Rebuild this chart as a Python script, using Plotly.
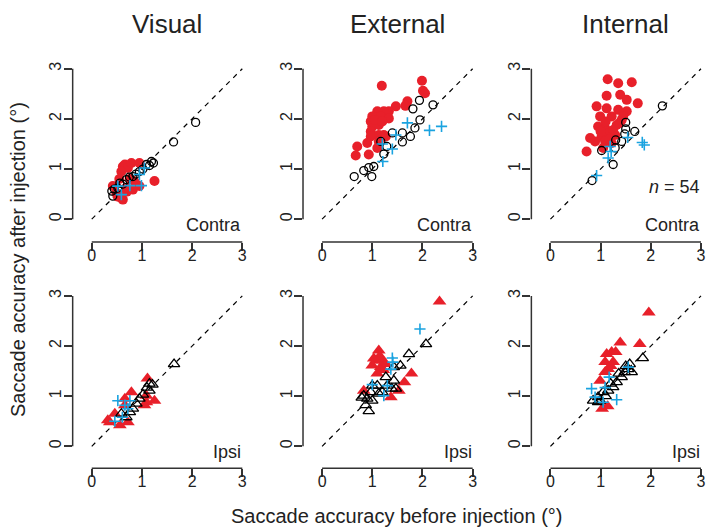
import plotly.graph_objects as go

# ---------------- data (accuracy before, after injection, degrees) ----------------
vis_contra_black_x = [0.40, 0.42, 0.45, 0.52, 0.56, 0.62, 0.69, 0.75, 0.82, 0.88, 0.95, 1.02, 1.09, 1.15, 1.19, 1.23, 1.63, 2.07]
vis_contra_black_y = [0.56, 0.46, 0.60, 0.62, 0.72, 0.70, 0.79, 0.84, 0.85, 0.90, 0.95, 1.00, 1.09, 1.07, 1.15, 1.12, 1.54, 1.93]
vis_contra_red_x = [0.62, 0.66, 0.72, 0.79, 0.95, 0.59, 0.42, 0.49, 0.62, 0.82, 0.95, 0.76, 1.25, 0.55, 0.70, 0.88, 0.52, 0.68, 0.59, 0.85]
vis_contra_red_y = [1.05, 1.09, 1.02, 1.12, 1.12, 0.95, 0.66, 0.52, 0.39, 0.59, 0.66, 0.80, 0.76, 0.80, 0.55, 0.70, 0.45, 0.62, 0.42, 0.75]
vis_contra_blue_x = [0.52, 0.59, 0.76, 0.99, 0.95, 1.05]
vis_contra_blue_y = [0.66, 0.49, 0.67, 0.67, 0.89, 1.02]

ext_contra_black_x = [0.64, 0.83, 0.93, 1.03, 0.99, 1.23, 1.29, 1.40, 1.60, 1.60, 1.76, 1.85, 1.95, 1.81, 1.94, 2.21, 1.17]
ext_contra_black_y = [0.85, 0.97, 1.03, 1.05, 0.85, 1.30, 1.45, 1.72, 1.72, 1.54, 1.65, 1.82, 1.98, 2.20, 2.37, 2.28, 1.55]
ext_contra_red_x = [1.19, 1.99, 2.01, 2.05, 1.70, 1.66, 1.47, 1.33, 1.23, 1.10, 1.00, 1.17, 1.33, 0.97, 1.00, 1.13, 0.97, 0.97, 1.13, 1.23, 0.90, 1.13, 0.70, 0.67, 0.93, 1.10, 1.27, 1.05, 1.20]
ext_contra_red_y = [2.66, 2.76, 2.56, 2.51, 2.35, 2.26, 2.25, 2.15, 2.15, 2.15, 2.05, 2.05, 2.01, 1.95, 1.85, 1.88, 1.75, 1.65, 1.68, 1.68, 1.52, 1.55, 1.45, 1.27, 1.29, 1.42, 1.65, 1.98, 1.95]
ext_contra_blue_x = [1.70, 2.14, 2.38, 1.47, 1.20, 1.40, 1.21]
ext_contra_blue_y = [1.92, 1.77, 1.85, 1.68, 1.50, 1.40, 1.15]

int_contra_black_x = [2.23, 1.68, 1.50, 1.50, 1.48, 1.30, 1.02, 1.25, 0.83, 1.29, 1.42]
int_contra_black_y = [2.26, 1.75, 1.93, 1.80, 1.70, 1.58, 1.37, 1.09, 0.77, 1.42, 1.55]
int_contra_red_x = [1.14, 1.35, 1.62, 1.12, 1.39, 1.52, 1.74, 0.92, 1.12, 1.35, 1.22, 1.52, 0.99, 0.95, 1.09, 1.42, 1.32, 1.15, 1.02, 1.29, 0.79, 0.89, 1.09, 1.22, 0.72, 1.05, 1.18, 1.25, 1.38, 1.10, 1.45, 1.00]
int_contra_red_y = [2.79, 2.71, 2.73, 2.46, 2.48, 2.38, 2.31, 2.25, 2.21, 2.18, 2.05, 2.15, 2.05, 1.85, 1.82, 1.98, 1.88, 1.72, 1.65, 1.68, 1.62, 1.55, 1.55, 1.52, 1.35, 1.42, 1.60, 1.78, 1.92, 1.95, 2.05, 1.75]
int_contra_blue_x = [0.92, 1.15, 1.19, 1.21, 1.54, 1.83, 1.87]
int_contra_blue_y = [0.87, 1.22, 1.45, 1.35, 1.63, 1.53, 1.48]

vis_ipsi_black_x = [1.64, 1.21, 1.15, 1.10, 1.15, 1.02, 0.95, 0.89, 0.82, 0.76, 0.69, 0.59]
vis_ipsi_black_y = [1.64, 1.23, 1.25, 1.17, 1.11, 1.03, 0.95, 0.85, 0.75, 0.68, 0.58, 0.65]
vis_ipsi_red_x = [1.11, 0.79, 1.25, 1.09, 0.66, 0.46, 0.36, 0.56, 0.72, 1.09, 0.66, 0.32, 1.05]
vis_ipsi_red_y = [1.35, 1.08, 0.91, 0.88, 0.82, 0.65, 0.48, 0.42, 0.48, 1.01, 0.95, 0.52, 0.82]
vis_ipsi_blue_x = [0.52, 0.76, 0.66, 0.72, 0.46, 0.61]
vis_ipsi_blue_y = [0.91, 0.91, 0.82, 0.75, 0.50, 0.58]

ext_ipsi_black_x = [2.07, 1.73, 1.56, 1.43, 1.27, 1.30, 1.43, 1.47, 1.20, 1.10, 1.00, 1.13, 0.97, 0.83, 0.90, 1.00, 0.87, 0.93, 0.79, 1.39]
ext_ipsi_black_y = [2.04, 1.84, 1.61, 1.58, 1.38, 1.21, 1.31, 1.15, 1.08, 1.21, 1.21, 1.05, 1.08, 1.01, 0.95, 0.91, 0.82, 0.70, 0.97, 1.15]
ext_ipsi_red_x = [2.34, 1.13, 1.07, 1.20, 1.00, 1.17, 1.27, 1.10, 1.78, 1.64, 1.53, 1.37, 0.83, 1.03, 1.15, 1.22]
ext_ipsi_red_y = [2.89, 1.91, 1.71, 1.71, 1.61, 1.58, 1.64, 1.45, 1.45, 1.28, 1.11, 0.98, 1.11, 1.75, 1.80, 1.52]
ext_ipsi_blue_x = [1.95, 1.40, 1.37, 1.00, 1.30, 1.23, 1.41]
ext_ipsi_blue_y = [2.34, 1.76, 1.54, 1.23, 1.21, 1.01, 1.68]

int_ipsi_black_x = [1.84, 1.58, 1.55, 1.62, 1.48, 1.42, 1.32, 1.25, 1.15, 1.05, 0.95, 0.85, 0.99, 0.95, 1.10, 1.20, 1.36, 1.50]
int_ipsi_black_y = [1.76, 1.64, 1.54, 1.48, 1.48, 1.38, 1.28, 1.18, 1.11, 1.08, 0.98, 0.91, 0.91, 0.88, 1.00, 1.25, 1.45, 1.60]
int_ipsi_red_x = [1.96, 1.39, 1.78, 1.22, 1.30, 1.12, 1.09, 1.25, 1.15, 1.09, 0.99, 1.03, 1.14, 1.20]
int_ipsi_red_y = [2.67, 2.07, 2.04, 1.88, 1.88, 1.84, 1.68, 1.68, 1.54, 1.48, 1.31, 0.75, 0.80, 1.60]
int_ipsi_blue_x = [1.55, 1.17, 0.82, 1.09, 1.32, 0.89, 1.05]
int_ipsi_blue_y = [1.58, 1.38, 1.15, 1.17, 0.93, 0.98, 0.88]

col_titles = ["Visual", "External", "Internal"]
row_labels = ["Contra", "Ipsi"]
tick_vals = [0, 1, 2, 3]
tick_text = ["0", "1", "2", "3"]
n_label = "<i>n</i> = 54"
x_title = "Saccade accuracy before injection (°)"
y_title = "Saccade accuracy after injection (°)"

panels = [
    (vis_contra_black_x, vis_contra_black_y, vis_contra_red_x, vis_contra_red_y, vis_contra_blue_x, vis_contra_blue_y),
    (ext_contra_black_x, ext_contra_black_y, ext_contra_red_x, ext_contra_red_y, ext_contra_blue_x, ext_contra_blue_y),
    (int_contra_black_x, int_contra_black_y, int_contra_red_x, int_contra_red_y, int_contra_blue_x, int_contra_blue_y),
    (vis_ipsi_black_x, vis_ipsi_black_y, vis_ipsi_red_x, vis_ipsi_red_y, vis_ipsi_blue_x, vis_ipsi_blue_y),
    (ext_ipsi_black_x, ext_ipsi_black_y, ext_ipsi_red_x, ext_ipsi_red_y, ext_ipsi_blue_x, ext_ipsi_blue_y),
    (int_ipsi_black_x, int_ipsi_black_y, int_ipsi_red_x, int_ipsi_red_y, int_ipsi_blue_x, int_ipsi_blue_y),
]

# ---------------- style / layout ----------------
W, H = 707, 527
RED = "#E8202A"
BLUE = "#1AA3E0"
AX = "#333333"
TXT = "#222222"
FONT = "Liberation Sans, Arial, sans-serif"
PPU = 50.33  # pixels per data unit
x_zero_px = [92, 323, 552]
y_zero_px = [218, 446]
x_axis_px = [241, 468]
XR = [-0.38, 3.05]

fig = go.Figure()
layout = dict(
    width=W, height=H, margin=dict(l=0, r=0, t=0, b=0),
    paper_bgcolor="white", plot_bgcolor="white",
    showlegend=False, font=dict(family=FONT, color=TXT),
)
shapes = []
annotations = []

for idx, (bx, by, rx, ry, ux, uy) in enumerate(panels):
    r, c = divmod(idx, 3)
    k = idx + 1
    xs = "" if k == 1 else str(k)
    xa, ya = "x" + xs, "y" + xs

    fill_sym = "circle" if r == 0 else "triangle-up"
    open_sym = "circle-open" if r == 0 else "triangle-up-open"
    fsize = 10 if r == 0 else 12
    osize = 8 if r == 0 else 10

    fig.add_trace(go.Scatter(x=rx, y=ry, mode="markers", xaxis=xa, yaxis=ya,
                             marker=dict(symbol=fill_sym, size=fsize, color=RED, line=dict(width=0))))
    fig.add_trace(go.Scatter(x=bx, y=by, mode="markers", xaxis=xa, yaxis=ya,
                             marker=dict(symbol=open_sym, size=osize, color="black", line=dict(width=1.3, color="black"))))
    fig.add_trace(go.Scatter(x=ux, y=uy, mode="markers", xaxis=xa, yaxis=ya,
                             marker=dict(symbol="cross-thin", size=8, color=BLUE, line=dict(width=1.6, color=BLUE))))

    x0px = x_zero_px[c] + XR[0] * PPU
    x1px = x_zero_px[c] + XR[1] * PPU
    ybot = x_axis_px[r]
    ylo = -(ybot - y_zero_px[r]) / PPU
    yhi = 3.1
    ytop = y_zero_px[r] - yhi * PPU

    common = dict(showgrid=False, zeroline=False, showline=False, ticks="outside", ticklen=8,
                  tickwidth=1.5, tickcolor=AX, tickvals=tick_vals, ticktext=tick_text,
                  tickfont=dict(size=16, color=TXT, family=FONT), fixedrange=True)
    layout["xaxis" + xs] = dict(common, domain=[x0px / W, x1px / W], range=XR, anchor=ya,
                                ticklabelstandoff=-9)
    layout["yaxis" + xs] = dict(common, domain=[1 - ybot / H, 1 - ytop / H], range=[ylo, yhi],
                                anchor=xa, tickangle=-90, ticklabelstandoff=-4)

    shapes.append(dict(type="line", xref=xa, yref=ya + " domain", x0=0, x1=3, y0=0, y1=0,
                       line=dict(color=AX, width=1.5), layer="above"))
    shapes.append(dict(type="line", xref=xa + " domain", yref=ya, x0=0, x1=0, y0=0, y1=3,
                       line=dict(color=AX, width=1.5), layer="above"))
    shapes.append(dict(type="line", xref=xa, yref=ya, x0=0, y0=0, x1=3, y1=3,
                       line=dict(color="black", width=1.2, dash="5px,5px"), layer="below"))

    annotations.append(dict(text=row_labels[r], xref=xa, yref=ya, x=3.02, y=-0.12,
                            xanchor="right", yanchor="middle", showarrow=False,
                            font=dict(size=18, color=TXT, family=FONT)))

annotations.append(dict(text=n_label, xref="x3", yref="y3", x=3.02, y=0.64, xanchor="right",
                        yanchor="middle", showarrow=False, font=dict(size=18, color=TXT, family=FONT)))
for c, t in enumerate(col_titles):
    annotations.append(dict(text=t, xref="paper", yref="paper", x=(x_zero_px[c] + 1.5 * PPU) / W,
                            y=1 - 22 / H, xanchor="center", yanchor="middle", showarrow=False,
                            font=dict(size=26, color=TXT, family=FONT)))
annotations.append(dict(text=x_title, xref="paper", yref="paper", x=398 / W, y=1 - 516 / H,
                        xanchor="center", yanchor="middle", showarrow=False,
                        font=dict(size=20, color=TXT, family=FONT)))
annotations.append(dict(text=y_title, xref="paper", yref="paper", x=18 / W, y=1 - 258 / H,
                        xanchor="center", yanchor="middle", showarrow=False, textangle=-90,
                        font=dict(size=20, color=TXT, family=FONT)))

layout["shapes"] = shapes
layout["annotations"] = annotations
fig.update_layout(**layout)
fig.write_html("out.html")
